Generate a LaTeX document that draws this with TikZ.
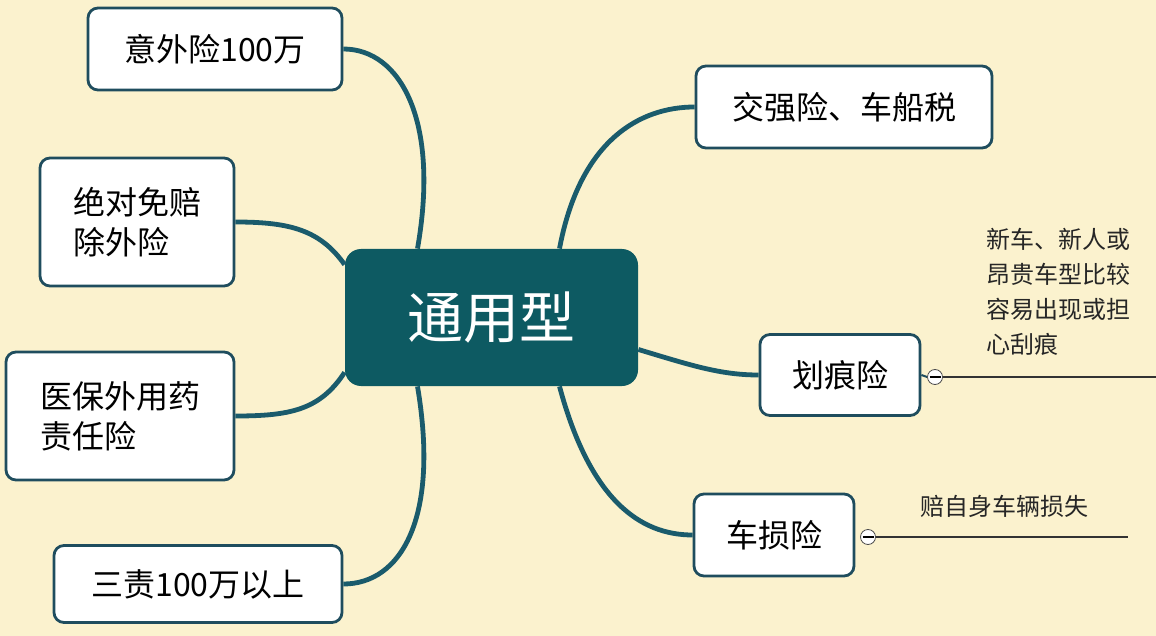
\documentclass[tikz,border=0pt]{standalone}
\usepackage{fontspec}
\setmainfont{Noto Sans CJK SC}
\definecolor{bg}{HTML}{FBF2CE}
\definecolor{teal}{HTML}{0D5A62}
\definecolor{lnk}{HTML}{1A5B6C}
\definecolor{bord}{HTML}{1F4D5E}
\begin{document}
\begin{tikzpicture}[x=0.5pt,y=-0.5pt,
 leaf/.style={draw=bord,line width=1.4pt,fill=white,rounded corners=5pt,inner sep=0pt,font=\fontsize{16}{20}\selectfont,align=left},
 br/.style={draw=lnk,line width=2.4pt},
 ann/.style={font=\fontsize{12}{17.5}\selectfont,align=left,anchor=north west,inner sep=0pt,text=black!85}]
\fill[bg] (0,0) rectangle (1156,636);
\useasboundingbox (0,0) rectangle (1156,636);
\node[fill=teal,rounded corners=8pt,minimum width=146.5pt,minimum height=68.5pt,text=white,font=\fontsize{28}{32}\selectfont] (c) at (491.5,317.5) {通用型};
\node[leaf,minimum width=127pt,minimum height=41pt] (a) at (215,49) {意外险100万};
\node[leaf,minimum width=97pt,minimum height=64pt] (b) at (137,222) {绝对免赔\\除外险};
\node[leaf,minimum width=114pt,minimum height=64pt] (d) at (120,416) {医保外用药\\责任险};
\node[leaf,minimum width=144pt,minimum height=38.5pt] (e) at (198,584) {三责100万以上};
\node[leaf,minimum width=148pt,minimum height=41pt] (f) at (844,107) {交强险、车船税};
\node[leaf,minimum width=80pt,minimum height=40.5pt] (g) at (840,375) {划痕险};
\node[leaf,minimum width=80pt,minimum height=41pt] (h) at (774,535) {车损险};
\draw[br] ([xshift=-37pt]c.north) .. controls (440,120) and (400,49) .. (a.east);
\draw[br] ([yshift=-8pt]c.north west) .. controls (320,230) and (290,222) .. (b.east);
\draw[br] ([yshift=7pt]c.south west) .. controls (320,410) and (290,416) .. (d.east);
\draw[br] ([xshift=-37pt]c.south) .. controls (440,520) and (400,584) .. (e.east);
\draw[br] ([xshift=34pt]c.north) .. controls (580,140) and (640,107) .. (f.west);
\draw[br] ([yshift=-16pt]c.east) .. controls (690,365) and (720,375) .. (g.west);
\draw[br] ([xshift=34pt]c.south) .. controls (590,500) and (640,535) .. (h.west);
\node[draw=black!70,fill=white,circle,inner sep=0pt,minimum size=7.5pt] (o1) at (935,377) {};
\draw[line width=0.6pt] (929.5,377) -- (940.5,377);
\coordinate (q1) at (1156,377);
\draw[line width=1.2pt,black!80] (o1.east) -- (q1);
\draw[line width=1pt,bord] (g.east) -- (o1.west);
\node[ann] (t1) at (986,228) {新车、新人或\\昂贵车型比较\\容易出现或担\\心刮痕};
\node[draw=black!70,fill=white,circle,inner sep=0pt,minimum size=7.5pt] (o2) at (868,537) {};
\draw[line width=0.6pt] (862.5,537) -- (873.5,537);
\coordinate (q2) at (1128,537);
\draw[line width=1.2pt,black!80] (o2.east) -- (q2);
\node[ann] (t2) at (920,495) {赔自身车辆损失};
\end{tikzpicture}
\end{document}
